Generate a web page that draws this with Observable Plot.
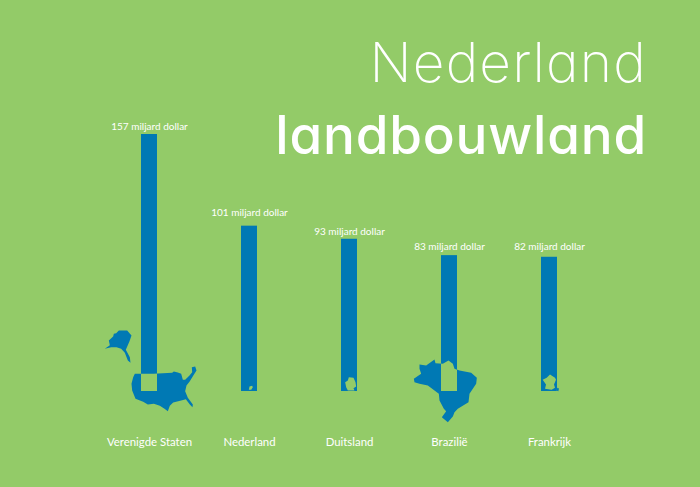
<!DOCTYPE html>
<html lang="nl">
<head>
<meta charset="utf-8">
<script src="https://cdn.jsdelivr.net/npm/d3@7"></script>
<script src="https://cdn.jsdelivr.net/npm/@observablehq/plot@0.6"></script>
<style>
html,body{margin:0;padding:0;background:#93cb68;}
#wrap{position:relative;width:700px;height:487px;overflow:hidden;background:#93cb68;}
#wrap svg{display:block;background:transparent;}
.t{position:absolute;color:#fff;white-space:nowrap;line-height:1;font-family:Inter,sans-serif;font-feature-settings:"cv11" 1;}
#t1{top:35px;right:53px;font-size:55px;font-weight:200;letter-spacing:1.2px;}
#t2{top:109px;right:53px;font-size:53px;font-weight:500;letter-spacing:0.8px;}
</style>
</head>
<body>
<div id="wrap">
<div class="t" id="t1">Nederland</div>
<div class="t" id="t2">landbouwland</div>
</div>
<script>
const countries = ["Verenigde Staten","Nederland","Duitsland","Brazilië","Frankrijk"];
const values = [157,101,93,83,82];
const unit = "miljard dollar";
const labelGaps = [4.3,9.7,4.5,5.3,7];

// Silhouettes, in 1/3 px units, relative to the foot of each bar
const usMain = [[133,160],[190,160],[245,157],[250,153],[262,156],[272,160],[277,178],[284,178],[297,165],[305,155],[304,140],[314,138],[318,150],[308,166],[298,182],[288,195],[284,212],[292,232],[307,252],[306,260],[298,252],[286,236],[272,240],[248,246],[238,256],[232,272],[222,265],[208,256],[190,250],[172,252],[158,244],[135,235],[125,210],[123,190],[128,170]];
const usAlaska = [[70,40],[77,38],[85,30],[110,30],[123,45],[117,62],[106,88],[118,110],[120,127],[112,120],[103,97],[92,85],[78,80],[62,80],[43,85],[58,74],[55,60],[68,48]];
const nl = [[60,78],[68,76],[70,80],[65,88],[58,88]];
const de = [[358,50],[372,52],[378,65],[380,78],[372,83],[375,90],[355,90],[350,80],[347,65],[355,60]];
const br = [[60,72],[80,75],[105,57],[108,68],[130,70],[147,60],[160,70],[165,85],[180,90],[215,97],[232,112],[230,130],[210,160],[207,185],[175,205],[165,215],[160,228],[145,245],[127,230],[140,212],[133,205],[120,180],[118,160],[85,135],[60,130],[45,125],[43,115],[65,100],[60,85]];
const fr = [[960,42],[975,52],[978,58],[972,72],[975,82],[965,88],[945,85],[948,72],[938,58],[950,52]];
const corsica = [[982,82],[987,84],[985,92],[980,90]];

const blue = "#0079b4", green = "#93cb68";
const shapes = [
  {name:countries[0], rings:[usMain,usAlaska], o:[177,213]},
  {name:countries[1], rings:[nl], o:[60,93]},
  {name:countries[2], rings:[de], o:[360,93]},
  {name:countries[3], rings:[br], o:[150,153]},
  {name:countries[4], rings:[fr,corsica], o:[958.5,93]}
];
const symbolOf = s => ({draw(ctx){
  for (const ring of s.rings) {
    ring.forEach(([a,b],i)=>{
      const px=(a-s.o[0])/3, py=(b-s.o[1])/3;
      i?ctx.lineTo(px,py):ctx.moveTo(px,py);
    });
    ctx.closePath();
  }
}});
const mapMarks = fill => shapes.map(s =>
  Plot.dot([s.name],{x:d=>d,y:()=>0,symbol:symbolOf(s),fill}));

const table = countries.map((name,i)=>({name,value:values[i],gap:labelGaps[i]}));

const chart = Plot.plot({
  width:700,height:487,
  marginTop:134,marginBottom:96,marginLeft:0,marginRight:0,
  style:{background:"transparent",fontFamily:"Lato,sans-serif"},
  x:{domain:countries,range:[141,558],paddingInner:0.84,paddingOuter:0,align:0,label:null},
  y:{domain:[0,157],axis:null,label:null},
  marks:[
    Plot.barY(table,{x:"name",y:"value",fill:blue}),
    ...mapMarks(blue),
    ...mapMarks(green),
    ...table.map(d=>Plot.text([d],{x:"name",y:"value",text:e=>`${e.value} ${unit}`,dy:-d.gap,fill:"#fff",fontSize:10,lineAnchor:"bottom"})),
    Plot.axisX({tickSize:0,tickPadding:46,fontSize:11.4,fill:"#fff",label:null,anchor:"bottom"})
  ]
});
document.getElementById("wrap").prepend(chart);

// the country shows as a knock-out where it crosses its bar
const svg=d3.select(chart);
const clip=svg.append("defs").append("clipPath").attr("id","bar-clip");
svg.selectAll('g[aria-label="bar"] rect').each(function(){clip.node().appendChild(this.cloneNode());});
const dotGroups=svg.selectAll('g[aria-label="dot"]').nodes();
dotGroups.slice(shapes.length).forEach(g=>{
  const wrapper=document.createElementNS("http://www.w3.org/2000/svg","g");
  wrapper.setAttribute("clip-path","url(#bar-clip)");
  g.parentNode.insertBefore(wrapper,g);
  wrapper.appendChild(g);
});
</script>
</body>
</html>
